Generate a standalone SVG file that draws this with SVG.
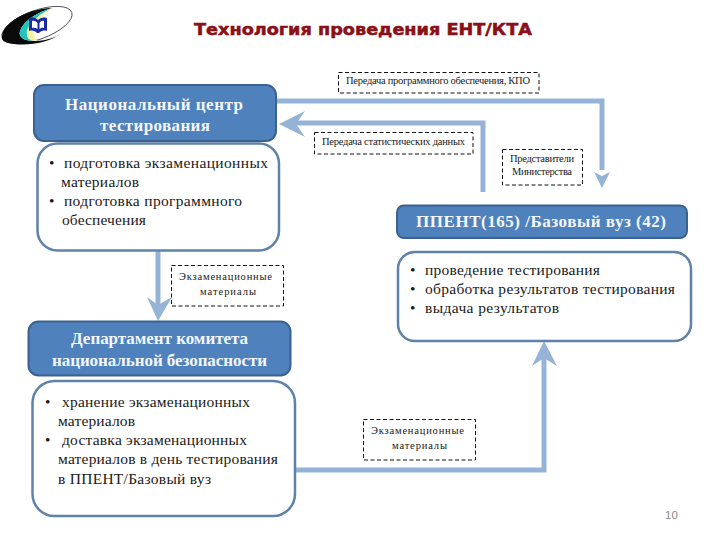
<svg xmlns="http://www.w3.org/2000/svg" width="720" height="540" viewBox="0 0 720 540">
<style>
text{font-family:"Liberation Serif","Times New Roman",serif;fill:#1a1a1a}
.h{fill:#4f81bd;stroke:#3a6190;stroke-width:2}
.l{fill:#fff;stroke:#5f82a8;stroke-width:2.5}
.d{fill:#fff;stroke:#111;stroke-width:1;stroke-dasharray:4 2.5}
.t{font-size:17px;font-weight:bold;fill:#f4f7fb;text-anchor:middle}
.b{font-size:15.500px}
.s{font-size:10.500px;text-anchor:middle}
.c{fill:none;stroke:#95b3d7;stroke-width:5;stroke-linejoin:miter}
.a{fill:#95b3d7}
</style>
<rect width="720" height="540" fill="#fff"/>
<g id="logo">
<ellipse cx="37" cy="25" rx="37" ry="14.500" transform="rotate(-20 37 25)" fill="#fff" stroke="#222" stroke-width="0.700"/>
<path d="M2 36C3 24 24 9 52 8C38 12 24 20 20 31C18 37 24 41 34 41C48 41 58 36 60 34C50 42 30 46 14 44C5 43 1 41 2 36Z" fill="#0a0a0a"/>
<path d="M20 31C24 20 38 12 52 8C42 13 30 21 27 31C26 37 29 40 34 41C24 41 18 37 20 31Z" fill="#22c4bc"/>
<path d="M27 31C30 21 42 13 52 8C46 13 36 21 34 31C33 36 35 39 38 41L34 41C29 40 26 37 27 31Z" fill="#f6f3a0"/>
<path d="M29 18C34 17 36 18 38 20C40 18 43 17 47 18V31C43 30 41 31 39 33H37C35 31 33 30 29 31Z" fill="#1a2aa5"/>
<path d="M32 21C34 20.500 36 21 37.500 23V29C36 28 34 27.500 32 28ZM44 21C42 20.500 41 21 39.500 23V29C41 28 42 27.500 44 28Z" fill="#fff"/>
</g>
<text id="title" x="194" y="35" textLength="338" lengthAdjust="spacingAndGlyphs" style="font-family:'DejaVu Sans','Liberation Sans',sans-serif;font-size:15px;font-weight:bold;fill:#8a0f17;stroke:#8a0f17;stroke-width:0.500">Технология проведения ЕНТ/КТА</text>
<g id="connectors">
<path class="c" d="M277 101H602V170"/>
<path class="a" d="M602 188L594 172L602 176L610 172Z"/>
<path class="c" d="M483 192V123H296"/>
<path class="a" d="M279 124L305 111L296 124L305 137Z"/>
<path class="c" d="M158 251V305"/>
<path class="a" d="M158 321L147 297L158 305L172 297Z"/>
<path class="c" d="M295 470H544V358"/>
<path class="a" d="M544 341L532 366L544 358L557 366Z"/>
</g>
<g id="node-center">
<rect class="l" x="37.500" y="143.500" width="241.500" height="107" rx="20"/>
<rect class="h" x="34" y="85" width="242" height="56" rx="10"/>
<text class="t" x="154" y="110" textLength="178">Национальный центр</text>
<text class="t" x="155" y="131" textLength="110">тестирования</text>
<text class="b" x="49" y="168">•</text><text class="b" x="64" y="168" textLength="204">подготовка экзаменационных</text>
<text class="b" x="61" y="187" textLength="78">материалов</text>
<text class="b" x="49" y="206">•</text><text class="b" x="64" y="206" textLength="178">подготовка программного</text>
<text class="b" x="62" y="225" textLength="84">обеспечения</text>
</g>
<g id="node-ppent">
<rect class="l" x="398" y="252" width="293" height="89" rx="17"/>
<rect class="h" x="397" y="205.500" width="290" height="32.500" rx="7"/>
<text class="t" x="541" y="227" textLength="250">ППЕНТ(165) /Базовый вуз (42)</text>
<text class="b" x="410" y="275">•</text><text class="b" x="425" y="275" textLength="175">проведение тестирования</text>
<text class="b" x="410" y="294">•</text><text class="b" x="425" y="294" textLength="250">обработка результатов тестирования</text>
<text class="b" x="410" y="313">•</text><text class="b" x="425" y="313" textLength="134">выдача результатов</text>
</g>
<g id="node-dept">
<rect class="l" x="32.500" y="381" width="262.500" height="135" rx="22"/>
<rect class="h" x="28.500" y="321.500" width="262" height="54" rx="10"/>
<text class="t" x="159.500" y="344" textLength="177">Департамент комитета</text>
<text class="t" x="159.500" y="366" textLength="215">национальной безопасности</text>
<text class="b" x="45" y="407">•</text><text class="b" x="62" y="407" textLength="188">хранение экзаменационных</text>
<text class="b" x="58" y="426" textLength="77">материалов</text>
<text class="b" x="45" y="445">•</text><text class="b" x="62" y="445" textLength="185">доставка экзаменационных</text>
<text class="b" x="58" y="464" textLength="220">материалов в день тестирования</text>
<text class="b" x="58" y="484" textLength="153">в ППЕНТ/Базовый вуз</text>
</g>
<g id="label-software">
<rect class="d" x="338.500" y="72.500" width="200.500" height="20.500"/>
<text class="s" x="438" y="84" textLength="184">Передача программного обеспечения, КПО</text>
</g>
<g id="label-stats">
<rect class="d" x="314.500" y="132.500" width="158.500" height="21.500"/>
<text class="s" x="393.500" y="145" textLength="143">Передача статистических данных</text>
</g>
<g id="label-reps">
<rect class="d" x="502.500" y="149.500" width="80" height="35.500"/>
<text class="s" x="542" y="162" textLength="64">Представители</text>
<text class="s" x="542" y="175" textLength="60">Министерства</text>
</g>
<g id="label-materials-1">
<rect class="d" x="171.500" y="265.500" width="112" height="40.500"/>
<text class="s" x="225.500" y="280" textLength="93">Экзаменационные</text>
<text class="s" x="228" y="295" textLength="56">материалы</text>
</g>
<g id="label-materials-2">
<rect class="d" x="363.500" y="419.500" width="112" height="40.500"/>
<text class="s" x="417.500" y="434" textLength="93">Экзаменационные</text>
<text class="s" x="419.500" y="449" textLength="55">материалы</text>
</g>
<text id="page-number" x="665" y="519" style="font-family:'Liberation Sans',Arial,sans-serif;font-size:11.500px;fill:#8a8a8a">10</text>
</svg>
